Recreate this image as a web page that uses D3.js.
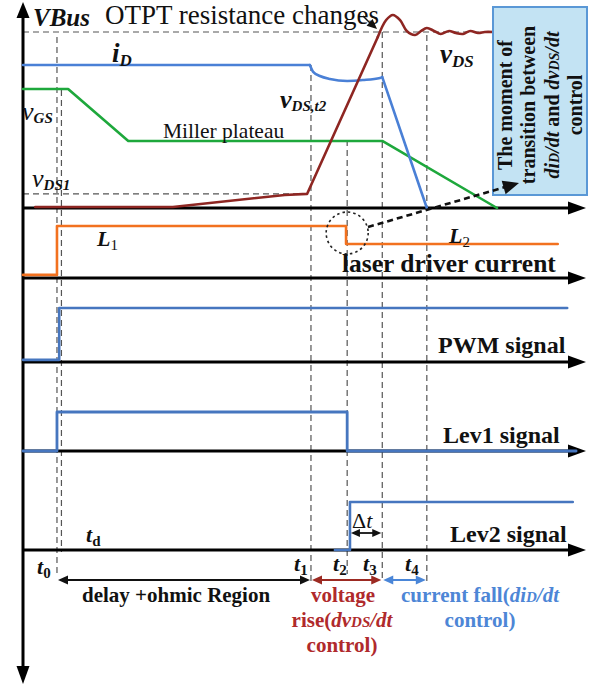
<!DOCTYPE html>
<html>
<head>
<meta charset="utf-8">
<script src="https://cdn.jsdelivr.net/npm/d3@7"></script>
<style>
  html, body { margin: 0; padding: 0; background: #fff; }
  svg { display: block; }
</style>
</head>
<body>
<script>
// ---- time base (arbitrary units) and switching instants ----
const timeDomain = [0, 100];
const timeMarks = [
  { id: "t0",  t: 6.1,  y0: 37,  y1: 576 },
  { id: "t0b", t: 6.9,  y0: 90,  y1: 552 },
  { id: "t1",  t: 51.7, y0: 65,  y1: 582 },
  { id: "t2",  t: 58.2, y0: 140, y1: 574 },
  { id: "t3",  t: 64.5, y0: 32,  y1: 582 },
  { id: "t4",  t: 72.5, y0: 35,  y1: 582 }
];
const timeLabels = ["t0", "t1", "t2", "t3", "t4"];

// ---- main switching waveforms (normalised, VBus = 1) ----
const vdsRamp = [[2.2, 0.006], [26.9, 0.006], [47.0, 0.074], [51.0, 0.080], [63.7, 0.972]];
const vdsRing = [[63.7, 0.972], [65.2, 1.068], [66.4, 1.097], [67.7, 1.068], [68.9, 1.006],
                 [70.4, 0.983], [71.5, 1.006], [72.5, 1.023], [73.8, 1.006], [75.0, 0.989],
                 [76.5, 1.006], [77.7, 0.994], [79.0, 0.989], [80.3, 1.006], [81.7, 0.994],
                 [82.9, 1.0], [84.4, 1.0]];
const idFlat = [[0, 0.8125], [51.5, 0.8125]];
const idDip = [[51.5, 0.8125], [52.1, 0.773], [53.3, 0.750], [55.1, 0.733], [58.2, 0.722],
               [61.0, 0.727], [64.1, 0.739], [64.5, 0.744]];
const idFall = [[64.5, 0.744], [72.5, 0]];
const vgs = [[0, 0.676], [8.1, 0.676], [18.9, 0.381], [64.5, 0.381], [85.1, 0]];
const vBusRef = [[0, 1], [84.4, 1]];
const vds1Ref = [[0, 0.08], [51.0, 0.08]];

// ---- driver / logic signals (step-after samples) ----
const laserCurrent = [[0, 0.06], [6.1, 1], [58.0, 0.654], [96.0, 0.654]];
const pwmSignal = [[0, 0.04], [6.5, 1], [97.7, 1]];
const lev1Signal = [[0, 0], [6.1, 1], [58.2, 0], [99.3, 0]];
const lev2Signal = [[56.0, 0], [58.7, 1], [98.7, 1]];

// ---- interval spans under the time axis ----
const spans = [
  { from: 6.1,  to: 51.7, color: "#111111" },
  { from: 51.7, to: 64.5, color: "#9c2a22" },
  { from: 64.5, to: 72.5, color: "#4a86d8" }
];

const SERIF = "'Liberation Serif','Times New Roman',serif";
const W = 600, H = 689;

const svg = d3.select("body").append("svg").attr("width", W).attr("height", H);
svg.append("rect").attr("width", W).attr("height", H).attr("fill", "#fff");

const x = d3.scaleLinear().domain(timeDomain).range([23, 580]);
const yMain  = d3.scaleLinear().domain([0, 1]).range([208, 32]);
const yLaser = d3.scaleLinear().domain([0, 1]).range([278, 226]);
const yPwm   = d3.scaleLinear().domain([0, 1]).range([362, 308]);
const yLev1  = d3.scaleLinear().domain([0, 1]).range([451, 412]);
const yLev2  = d3.scaleLinear().domain([0, 1]).range([550, 502]);

const AX = x(0);

function arrowHead(g, tx, ty, angle, len, half, color) {
  const a = angle * Math.PI / 180;
  const bx = tx - len * Math.cos(a), by = ty - len * Math.sin(a);
  const px = -Math.sin(a) * half, py = Math.cos(a) * half;
  g.append("path")
    .attr("d", `M${tx},${ty}L${bx + px},${by + py}L${bx - px},${by - py}Z`)
    .attr("fill", color);
}

// ---- dashed reference lines ----
const gRef = svg.append("g").attr("fill", "none").attr("stroke", "#555")
  .attr("stroke-width", 1.2).attr("stroke-dasharray", "6,4");
timeMarks.forEach(m => {
  gRef.append("line").attr("x1", x(m.t)).attr("x2", x(m.t)).attr("y1", m.y0).attr("y2", m.y1);
});
const refLine = d3.line().x(d => x(d[0])).y(d => yMain(d[1]));
gRef.append("path").attr("d", refLine(vBusRef));
gRef.append("path").attr("d", refLine(vds1Ref));

// ---- axes ----
const gAx = svg.append("g");
[yMain, yLaser, yPwm, yLev1, yLev2].forEach(s => {
  const yy = s(0);
  gAx.append("line").attr("x1", AX).attr("x2", 572).attr("y1", yy).attr("y2", yy)
    .attr("stroke", "#000").attr("stroke-width", 3);
  arrowHead(gAx, 586, yy, 0, 18, 6.5, "#000");
});
gAx.append("line").attr("x1", AX).attr("x2", AX).attr("y1", 12).attr("y2", 670)
  .attr("stroke", "#000").attr("stroke-width", 3);
arrowHead(gAx, AX, 2, -90, 16, 6.5, "#000");
arrowHead(gAx, AX, 684, 90, 18, 6.5, "#000");

// ---- waveforms ----
const gW = svg.append("g").attr("fill", "none").attr("stroke-linejoin", "round").attr("stroke-linecap", "round");
const lin = d3.line().x(d => x(d[0])).y(d => yMain(d[1]));
const smooth = d3.line().x(d => x(d[0])).y(d => yMain(d[1])).curve(d3.curveCatmullRom.alpha(0.5));
const mono = d3.line().x(d => x(d[0])).y(d => yMain(d[1])).curve(d3.curveMonotoneX);

gW.append("path").attr("d", lin(vgs)).attr("stroke", "#1ea83c").attr("stroke-width", 2.6);
gW.append("path").attr("d", lin(idFlat)).attr("stroke", "#4a80d6").attr("stroke-width", 2.6);
gW.append("path").attr("d", mono(idDip)).attr("stroke", "#4a80d6").attr("stroke-width", 2.6);
gW.append("path").attr("d", lin(idFall)).attr("stroke", "#4a80d6").attr("stroke-width", 2.6);
gW.append("path").attr("d", lin(vdsRamp)).attr("stroke", "#8e2622").attr("stroke-width", 2.6);
gW.append("path").attr("d", smooth(vdsRing)).attr("stroke", "#8e2622").attr("stroke-width", 2.6);

function stepLine(s) {
  return d3.line().x(d => x(d[0])).y(d => s(d[1])).curve(d3.curveStepAfter);
}
gW.append("path").attr("d", stepLine(yLaser)(laserCurrent)).attr("stroke", "#f2711f").attr("stroke-width", 2.6);
gW.append("path").attr("d", stepLine(yPwm)(pwmSignal)).attr("stroke", "#4676bf").attr("stroke-width", 2.6);
gW.append("path").attr("d", stepLine(yLev1)(lev1Signal)).attr("stroke", "#4676bf").attr("stroke-width", 2.8);
gW.append("path").attr("d", stepLine(yLev2)(lev2Signal)).attr("stroke", "#4676bf").attr("stroke-width", 2.6);

// ---- annotation box ----
const box = { x: 493, y: 7, w: 94, h: 188 };
svg.append("rect").attr("x", box.x).attr("y", box.y).attr("width", box.w).attr("height", box.h)
  .attr("fill", "#c3e3f3").attr("stroke", "#5a98d6").attr("stroke-width", 2);

// dotted circle around the L1 -> L2 transition and the pointer to the box
const cx = x(timeMarks[3].t), cy = 233;
svg.append("circle").attr("cx", cx).attr("cy", cy).attr("r", 21)
  .attr("fill", "none").attr("stroke", "#222").attr("stroke-width", 1.6).attr("stroke-dasharray", "2.5,3");
const pStart = [368, 227], pEnd = [519, 183];
const ang = Math.atan2(pEnd[1] - pStart[1], pEnd[0] - pStart[0]) * 180 / Math.PI;
svg.append("line").attr("x1", pStart[0]).attr("y1", pStart[1])
  .attr("x2", pEnd[0] - 12 * Math.cos(ang * Math.PI / 180)).attr("y2", pEnd[1] - 12 * Math.sin(ang * Math.PI / 180))
  .attr("stroke", "#111").attr("stroke-width", 2.6).attr("stroke-dasharray", "6,4");
arrowHead(svg, pEnd[0], pEnd[1], ang, 16, 7, "#111");

// small pointer from the title to the overshoot
svg.append("line").attr("x1", 363).attr("y1", 16).attr("x2", 371).attr("y2", 24)
  .attr("stroke", "#111").attr("stroke-width", 1.5);
arrowHead(svg, 377, 29, 42, 10, 4.5, "#111");

// interval arrows
spans.forEach(s => {
  const a = x(s.from), b = x(s.to), yy = 580;
  svg.append("line").attr("x1", a + 6).attr("x2", b - 6).attr("y1", yy).attr("y2", yy)
    .attr("stroke", s.color).attr("stroke-width", 1.8);
  arrowHead(svg, a + 1, yy, 180, 10, 4.5, s.color);
  arrowHead(svg, b - 1, yy, 0, 10, 4.5, s.color);
});
// Δt arrow
{
  const a = x(58.7), b = x(timeMarks[4].t), yy = 533;
  svg.append("line").attr("x1", a + 6).attr("x2", b - 6).attr("y1", yy).attr("y2", yy)
    .attr("stroke", "#111").attr("stroke-width", 1.8);
  arrowHead(svg, a + 1, yy, 180, 9, 4, "#111");
  arrowHead(svg, b - 1, yy, 0, 9, 4, "#111");
}

// ---- text ----
const gT = svg.append("g").attr("font-family", SERIF);
function rich(x0, y0, parts, opts = {}) {
  const t = gT.append("text").attr("x", x0).attr("y", y0)
    .attr("fill", opts.fill || "#111").attr("text-anchor", opts.anchor || "start");
  let shift = 0;
  parts.forEach(p => {
    const [s, size, style, weight, sub] = p;
    const off = sub || 0;
    const ts = t.append("tspan").text(s)
      .attr("font-size", size).attr("font-style", style || "normal").attr("font-weight", weight || "normal");
    if (off !== shift) ts.attr("dy", off - shift);
    shift = off;
  });
  return t;
}

rich(33, 26, [["VBus", 25, "italic", "bold"]]);
rich(105, 24, [["OTPT resistance changes", 27, "normal", "normal"]]);
rich(112, 62, [["i", 27, "italic", "bold"], ["D", 17, "italic", "bold", 4]]);
rich(22, 120, [["v", 26, "italic", "normal"], ["GS", 15, "italic", "bold", 3]]);
rich(163, 138, [["Miller plateau", 21.5, "normal", "normal"]]);
rich(32, 187, [["v", 26, "italic", "normal"], ["DS1", 15, "italic", "bold", 3]]);
rich(280, 108, [["v", 26, "italic", "bold"], ["DS,t2", 15, "italic", "bold", 3]]);
rich(440, 63, [["v", 27, "italic", "bold"], ["DS", 17, "italic", "bold", 4]]);

rich(97, 246, [["L", 22, "italic", "bold"], ["1", 15, "normal", "normal", 4]]);
rich(449, 243, [["L", 22, "italic", "bold"], ["2", 15, "normal", "normal", 4]]);
rich(342, 272, [["laser driver current", 25.5, "normal", "bold"]]);
rich(438, 353, [["PWM signal", 24, "normal", "bold"]]);
rich(443, 443, [["Lev1 signal", 24, "normal", "bold"]]);
rich(450, 542, [["Lev2 signal", 24, "normal", "bold"]]);
rich(86, 542, [["t", 22, "italic", "bold"], ["d", 15, "normal", "bold", 4]]);
rich(352, 528, [["\u0394", 22, "normal", "normal"], ["t", 22, "italic", "normal"]]);

// instant labels below the time axis
const labelPos = { t0: [37, 574], t1: [294, 571], t2: [333, 571], t3: [363, 571], t4: [405, 571] };
timeLabels.forEach(id => {
  const [lx, ly] = labelPos[id];
  rich(lx, ly, [["t", 22, "italic", "bold"], [id.slice(1), 15, "normal", "bold", 4]]);
});

rich(82, 602, [["delay +ohmic Region", 21, "normal", "bold"]]);
const RED = "#b02a2c", BLUE = "#4d86d6";
rich(343, 602, [["voltage", 21, "normal", "bold"]], { fill: RED, anchor: "middle" });
rich(342, 627, [["rise(", 21, "normal", "bold"], ["dv", 21, "italic", "bold"], ["DS", 15, "italic", "bold"], ["/dt", 21, "italic", "bold"]], { fill: RED, anchor: "middle" });
rich(342, 652, [["control)", 21, "normal", "bold"]], { fill: RED, anchor: "middle" });
rich(480, 602, [["current fall(", 21, "normal", "bold"], ["di", 21, "italic", "bold"], ["D", 15, "italic", "bold"], ["/dt", 21, "italic", "bold"]], { fill: BLUE, anchor: "middle" });
rich(480, 627, [["control)", 21, "normal", "bold"]], { fill: BLUE, anchor: "middle" });

// rotated note inside the box
const gBox = gT.append("g").attr("transform", `translate(${box.x + box.w / 2},${box.y + box.h / 2 + 4}) rotate(-90)`);
const boxLines = [
  [["The moment of", 20, "normal", "bold"]],
  [["transition between", 20, "normal", "bold"]],
  [["di", 20, "italic", "bold"], ["D", 14, "italic", "bold"], ["/dt", 20, "italic", "bold"], [" and ", 20, "normal", "bold"],
   ["dv", 20, "italic", "bold"], ["DS", 14, "italic", "bold"], ["/dt", 20, "italic", "bold"]],
  [["control", 20, "normal", "bold"]]
];
const lineOffsets = [-28, -5, 19, 42];
boxLines.forEach((parts, i) => {
  const t = gBox.append("text").attr("x", 0).attr("y", lineOffsets[i]).attr("text-anchor", "middle").attr("fill", "#111");
  parts.forEach(p => {
    t.append("tspan").text(p[0]).attr("font-size", p[1]).attr("font-style", p[2]).attr("font-weight", p[3]);
  });
});
</script>
</body>
</html>
